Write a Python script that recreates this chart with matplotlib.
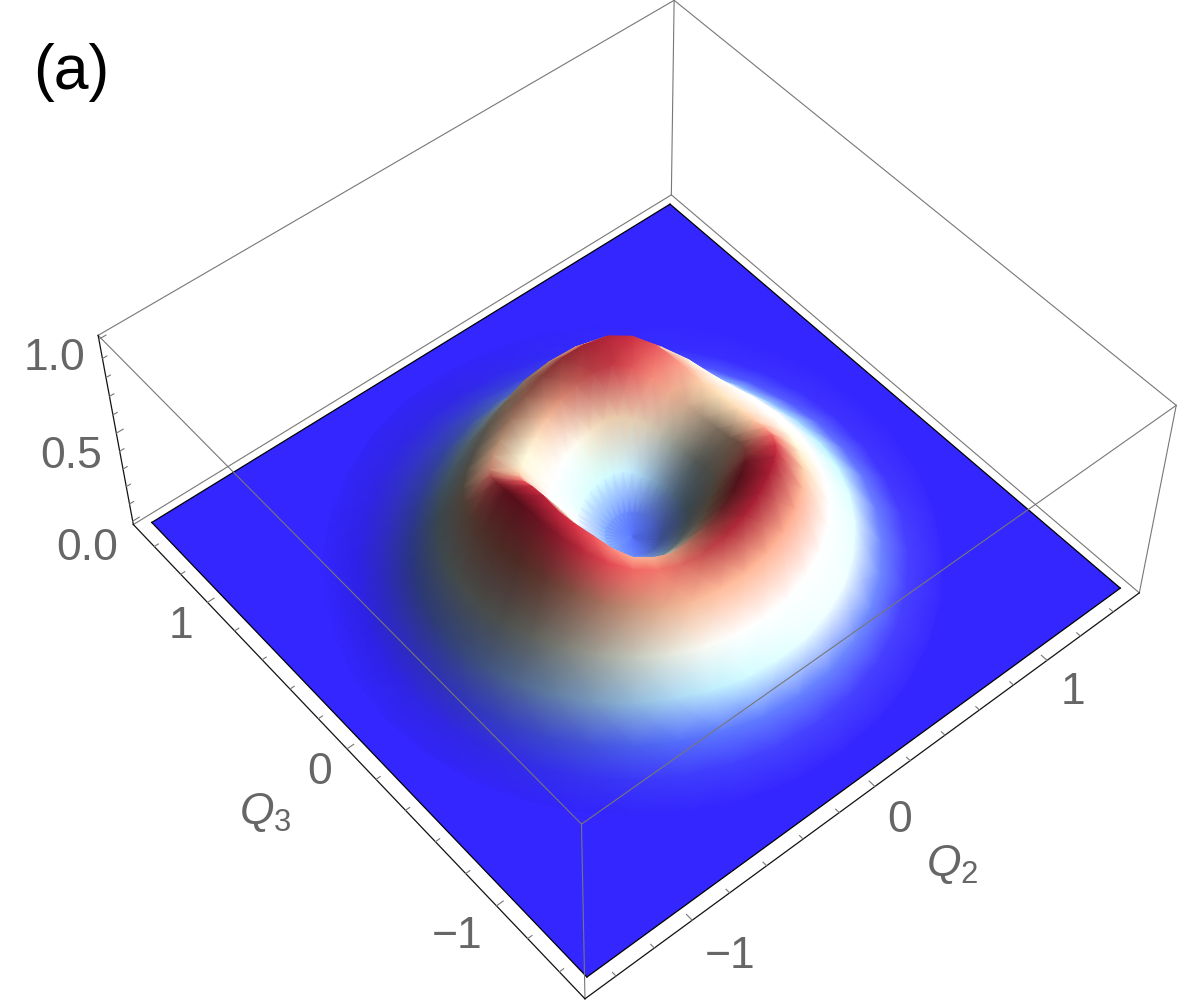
import numpy as np
import matplotlib
matplotlib.use("Agg")
import matplotlib.pyplot as plt
from matplotlib.colors import LinearSegmentedColormap
from mpl_toolkits.mplot3d import proj3d
from mpl_toolkits.mplot3d.art3d import Poly3DCollection

plt.rcParams.update({"font.family": "Liberation Sans", "mathtext.fontset": "custom",
                     "mathtext.rm": "Liberation Sans", "mathtext.it": "Liberation Sans:italic"})

# ---------- surface heights (polar table, 10 degree columns) ----------
radii = [0.0, 0.12, 0.24, 0.36, 0.48, 0.60, 0.72, 0.84, 0.96, 1.08, 1.20, 1.35]
angles_deg = [0, 10, 20, 30, 40, 50, 60, 70, 80, 90, 100, 110, 120, 130, 140, 150, 160, 170,
              180, 190, 200, 210, 220, 230, 240, 250, 260, 270, 280, 290, 300, 310, 320, 330, 340, 350]
heights = [
    [.10, .10, .10, .10, .10, .10, .10, .10, .10, .10, .10, .10, .10, .10, .10, .10, .10, .10,
     .10, .10, .10, .10, .10, .10, .10, .10, .10, .10, .10, .10, .10, .10, .10, .10, .10, .10],
    [.12, .12, .12, .12, .12, .12, .12, .12, .12, .12, .12, .12, .12, .12, .12, .12, .12, .12,
     .12, .12, .12, .12, .12, .12, .12, .12, .12, .12, .12, .12, .12, .12, .12, .12, .12, .12],
    [.19, .19, .19, .20, .21, .23, .24, .24, .23, .22, .21, .20, .19, .19, .21, .22, .23, .25,
     .26, .25, .24, .23, .22, .21, .20, .20, .21, .22, .23, .24, .25, .24, .23, .22, .21, .20],
    [.31, .31, .33, .35, .38, .41, .43, .42, .39, .37, .35, .33, .31, .32, .35, .38, .42, .46,
     .47, .46, .44, .42, .39, .35, .34, .34, .37, .39, .42, .44, .46, .45, .42, .39, .35, .32],
    [.41, .41, .43, .47, .53, .58, .60, .58, .55, .51, .47, .43, .41, .43, .47, .53, .59, .64,
     .66, .64, .62, .59, .54, .50, .49, .49, .52, .55, .58, .61, .63, .62, .57, .53, .48, .43],
    [.44, .44, .46, .52, .59, .63, .64, .62, .59, .55, .51, .47, .45, .46, .49, .56, .63, .68,
     .70, .69, .66, .63, .59, .56, .55, .55, .57, .60, .63, .66, .68, .66, .62, .57, .51, .46],
    [.38, .38, .39, .43, .47, .50, .52, .50, .47, .44, .40, .37, .35, .36, .39, .44, .48, .52,
     .54, .54, .53, .52, .49, .48, .47, .47, .48, .49, .50, .51, .52, .51, .49, .46, .43, .40],
    [.26, .25, .25, .26, .29, .31, .32, .30, .27, .25, .23, .21, .20, .20, .22, .24, .26, .29,
     .30, .32, .33, .33, .33, .33, .33, .33, .33, .33, .33, .33, .32, .32, .30, .29, .28, .27],
    [.14, .13, .13, .13, .14, .15, .15, .15, .13, .12, .11, .10, .09, .09, .09, .10, .11, .12,
     .13, .15, .17, .18, .19, .20, .21, .21, .21, .21, .20, .20, .19, .18, .18, .17, .16, .15],
    [.06, .05, .05, .05, .05, .05, .05, .05, .05, .05, .05, .04, .04, .03, .03, .03, .03, .04,
     .04, .05, .06, .07, .08, .09, .10, .10, .09, .09, .08, .08, .08, .08, .07, .07, .07, .06],
    [.01, .01, .01, .01, .01, .01, .01, .01, .01, .01, .01, .01, .01, .00, .00, .00, .00, .00,
     .01, .01, .01, .02, .02, .03, .03, .03, .03, .03, .02, .02, .02, .02, .02, .02, .01, .01],
    [.00, .00, .00, .00, .00, .00, .00, .00, .00, .00, .00, .00, .00, .00, .00, .00, .00, .00,
     .00, .00, .00, .00, .00, .00, .00, .00, .00, .00, .00, .00, .00, .00, .00, .00, .00, .00],
]
color_heights = [0.0, 0.10, 0.20, 0.28, 0.36, 0.45, 0.54, 0.60, 0.66]
color_stops = ["#3326FF", "#5570FF", "#A8D8FF", "#E6FFFF", "#FFF8E0", "#FFCFA8", "#FF8C78", "#DC3246", "#A01C32"]

plane_edge = 1.5
box_edge = 1.56
z_lo, z_hi = -0.02, 1.02
q_ticks = [-1.4, -1.2, -1.0, -0.8, -0.6, -0.4, -0.2, 0.0, 0.2, 0.4, 0.6, 0.8, 1.0, 1.2, 1.4]
z_ticks = [0.0, 0.1, 0.2, 0.3, 0.4, 0.5, 0.6, 0.7, 0.8, 0.9, 1.0]

# ---------- camera, fitted to the box corners ----------
ELEV, AZIM, ROLL = 50.78, -130.2, -0.08
W, H = 1200, 1000
side = 1054.3
fig = plt.figure(figsize=(W / 100, H / 100), dpi=100)
ax = fig.add_axes([91.02 / W, -8.9 / H, side / W, side / H], projection="3d")
ax.computed_zorder = False
ax.set_xlim(-box_edge, box_edge); ax.set_ylim(-box_edge, box_edge); ax.set_zlim(z_lo, z_hi)
ax.view_init(elev=ELEV, azim=AZIM, roll=ROLL)
ax.set_proj_type("persp", focal_length=0.5843)
ax.set_box_aspect((1, 1, 0.4029))
ax.set_axis_off()

C_GRAY, C_BLACK = "#777777", "#111111"

def seg(p, q, color=C_GRAY, lw=0.8, zo=1):
    ax.plot([p[0], q[0]], [p[1], q[1]], [p[2], q[2]], color=color, lw=lw, zorder=zo, clip_on=False)

def soften(a):
    # rendering only: takes the facet look off the shading, along the angle
    return 0.25 * np.roll(a, 1, axis=1) + 0.5 * a + 0.25 * np.roll(a, -1, axis=1)

b = box_edge
# back part of the box
seg((b, b, z_hi), (-b, b, z_hi)); seg((b, b, z_hi), (b, -b, z_hi)); seg((b, b, z_hi), (b, b, z_lo))
seg((b, b, z_lo), (-b, b, z_lo)); seg((b, b, z_lo), (b, -b, z_lo)); seg((b, -b, z_hi), (b, -b, z_lo))

# ---------- base plane ----------
e = plane_edge
corners = [(-e, -e, 0), (e, -e, 0), (e, e, 0), (-e, e, 0)]
base_color = color_stops[0]
ax.add_collection3d(Poly3DCollection([corners], facecolors=base_color, edgecolors="none", zorder=2))
for i in range(4):
    seg(corners[i], corners[(i + 1) % 4], color="#000000", lw=0.9, zo=3)

# ---------- surface: height colour times a directional light from screen right ----------
r = np.array(radii)
th = np.deg2rad(angles_deg)
Z = np.array(heights)
TH, R = np.meshgrid(th, r)
X, Y = R * np.cos(TH), R * np.sin(TH)

z_scale = 1.21
dz_dr = np.gradient(Z, r, axis=0)
dz_dt = (np.roll(Z, -1, axis=1) - np.roll(Z, 1, axis=1)) / (2 * np.deg2rad(10))
with np.errstate(divide="ignore", invalid="ignore"):
    dz_t = np.where(R > 0, dz_dt / R, 0.0)
gx = (dz_dr * np.cos(TH) - dz_t * np.sin(TH)) * z_scale
gy = (dz_dr * np.sin(TH) + dz_t * np.cos(TH)) * z_scale
gx[0], gy[0] = 0.0, 0.0
norm = np.sqrt(gx ** 2 + gy ** 2 + 1)
nx, ny = -gx / norm, -gy / norm

az = np.deg2rad(AZIM)
right = np.array([-np.sin(az), np.cos(az)])
toward = np.array([np.cos(az), np.sin(az)])
# the foot of the bump stays bright, the upper walls facing the viewer go dull
lit = 0.95 * (nx * right[0] + ny * right[1]) - (0.05 + 0.6 * Z) * (nx * toward[0] + ny * toward[1])
lit = soften(soften(lit))
dark_gain = 0.6 + 0.45 * np.clip(Z / 0.3, 0, 1)
bright_gain = 0.8 - 0.65 * np.clip((Z - 0.35) / 0.15, 0, 1)
shade = np.where(lit < 0, 1 + dark_gain * lit, 1 + bright_gain * lit)
shade = np.clip(shade, 0.3, 1.7)

cmap = LinearSegmentedColormap.from_list("heat", list(zip(np.array(color_heights) / color_heights[-1], color_stops)))
rgb = cmap(Z / color_heights[-1])[..., :3]
rgb = soften(np.clip(rgb * shade[..., None], 0, 1))

u, v, _ = proj3d.proj_transform(X.ravel(), Y.ravel(), Z.ravel(), ax.get_proj())
U, V = np.reshape(u, X.shape), np.reshape(v, X.shape)

# far cells first, so nearer ones cover them
n_r, n_t = Z.shape
cells = []
for i in range(n_r - 1):
    for j in range(n_t):
        j2 = (j + 1) % n_t
        idx = ([i, i, i + 1, i + 1], [j, j2, j, j2])
        depth = (X[idx].mean() * np.cos(az) + Y[idx].mean() * np.sin(az)) * np.cos(np.deg2rad(ELEV)) \
            + Z[idx].mean() * z_scale * np.sin(np.deg2rad(ELEV))
        cells.append((depth, i, j, j2))
cells.sort()
for depth, i, j, j2 in cells:
    ii = np.array([[i, i], [i + 1, i + 1]])
    jj = np.array([[j, j2], [j, j2]])
    m = ax.pcolormesh(U[ii, jj], V[ii, jj], rgb[ii, jj], shading="gouraud", zorder=4)
    m.do_3d_projection = lambda: 0

# ---------- front part of the box, drawn over the surface ----------
seg((-b, -b, z_hi), (-b, b, z_hi), zo=5); seg((-b, -b, z_hi), (b, -b, z_hi), zo=5)
seg((-b, -b, z_hi), (-b, -b, z_lo), zo=5)
seg((-b, -b, z_lo), (b, -b, z_lo), color=C_BLACK, lw=0.9, zo=5)
seg((-b, -b, z_lo), (-b, b, z_lo), color=C_BLACK, lw=0.9, zo=5)
seg((-b, b, z_lo), (-b, b, z_hi), color=C_BLACK, lw=0.9, zo=5)

for t in q_ticks:
    ln = 0.035 if abs(t - round(t)) < 1e-6 else 0.022
    seg((t, -b, z_lo), (t, -b + ln, z_lo), zo=5)
    seg((-b, t, z_lo), (-b + ln, t, z_lo), zo=5)
for t in z_ticks:
    ln = 0.035 if t in (0.0, 0.5, 1.0) else 0.022
    seg((-b, b, t), (-b + ln, b, t), zo=5)

# ---------- text ----------
C_TXT = "#666666"

def label(x, y, s, size=32, color=C_TXT):
    fig.text(x / W, 1 - y / H, s, fontsize=size, color=color, ha="center", va="center")

for x, y, s in [(55, 358, "1.0"), (71, 456, "0.5"), (87, 549, "0.0"),
                (181, 627, "1"), (320, 773, "0"), (457, 937, "\u22121"),
                (1073, 692, "1"), (900, 820, "0"), (730, 957, "\u22121")]:
    label(x, y, s)
label(265, 812, r"$Q_3$")
label(952, 865, r"$Q_2$")
label(71, 72, "(a)", size=45, color="black")

fig.savefig("out.png", dpi=100)
